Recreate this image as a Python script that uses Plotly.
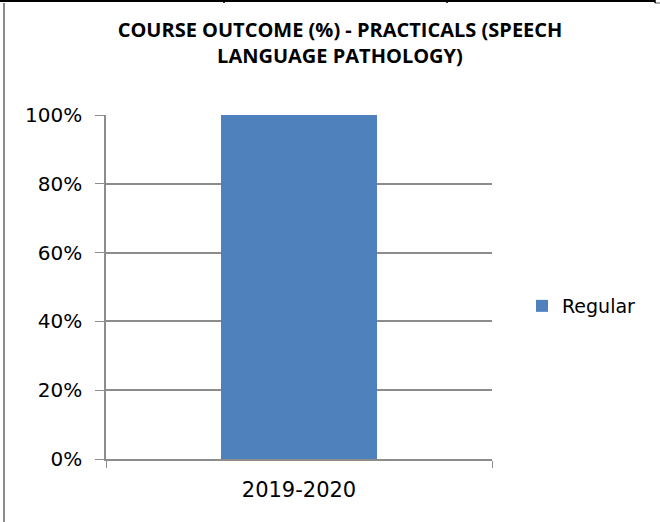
import plotly.graph_objects as go

categories = ["2019-2020"]
series_name = "Regular"
values = [1.0]
tick_vals = [0, 0.2, 0.4, 0.6, 0.8, 1.0]
tick_text = ["0%", "20%", "40%", "60%", "80%", "100%"]
title_text = "COURSE OUTCOME (%) - PRACTICALS (SPEECH<br>LANGUAGE PATHOLOGY)"

W, H = 660, 522
L, R, T, B = 106, 168, 115, 63
PW, PH = W - L - R, H - T - B

def px(x):
    return (x - L) / PW

def py(y):
    return (H - B - y) / PH

fig = go.Figure()
fig.add_trace(go.Bar(
    x=categories, y=values, name=series_name,
    marker=dict(color="#4F81BD", line=dict(width=0)),
    width=0.404, showlegend=True,
))

font_title = "Open Sans, sans-serif"
font_main = "DejaVu Sans, sans-serif"

fig.update_layout(
    width=W, height=H,
    margin=dict(l=L, r=R, t=T, b=B, pad=0),
    paper_bgcolor="white", plot_bgcolor="white",
    title=dict(text="<b>" + title_text + "</b>", x=(116 + 564) / 2 / W, xanchor="center",
               y=1 - 37 / H, yanchor="middle",
               font=dict(family=font_title, size=20, color="black")),
    showlegend=True,
    legend=dict(x=px(522), y=py(306), xanchor="left", yanchor="middle",
                font=dict(family=font_main, size=19, color="black"),
                bgcolor="rgba(0,0,0,0)", itemwidth=30),
    xaxis=dict(type="category", showline=True, linecolor="#8c8c8c", linewidth=1.5,
               ticks="outside", tickson="boundaries", ticklen=7, tickcolor="#8c8c8c",
               tickfont=dict(family=font_main, size=21, color="black"),
               showgrid=False, zeroline=False, ticklabelstandoff=11),
    yaxis=dict(range=[0, 1], tickvals=tick_vals, ticktext=tick_text,
               showline=True, linecolor="#8c8c8c", linewidth=1.5,
               ticks="outside", ticklen=9, tickcolor="#8c8c8c",
               showgrid=True, gridcolor="#8c8c8c", gridwidth=1.5, zeroline=False,
               tickfont=dict(family=font_main, size=20, color="black"),
               ticklabelstandoff=9),
    bargap=0,
    shapes=[
        dict(type="line", xref="paper", yref="paper", x0=px(0), x1=px(655),
             y0=py(1), y1=py(1), line=dict(color="black", width=2)),
        dict(type="line", xref="paper", yref="paper", x0=px(655), x1=px(660),
             y0=py(3), y1=py(3), line=dict(color="#8c8c8c", width=1.5)),
        dict(type="line", xref="paper", yref="paper", x0=px(4), x1=px(4),
             y0=py(H), y1=py(3), line=dict(color="#8c8c8c", width=2)),
        dict(type="line", xref="paper", yref="paper", x0=px(224), x1=px(224),
             y0=py(0), y1=py(3), line=dict(color="black", width=1.5)),
        dict(type="line", xref="paper", yref="paper", x0=px(447), x1=px(447),
             y0=py(0), y1=py(3), line=dict(color="black", width=1.5)),
        dict(type="line", xref="paper", yref="paper", x0=px(655), x1=px(655),
             y0=py(0), y1=py(3), line=dict(color="black", width=1.5)),
    ],
)

fig.write_html("out.html", config={"displayModeBar": False},
               post_script="document.body.style.margin='0';document.body.style.overflow='hidden';")
